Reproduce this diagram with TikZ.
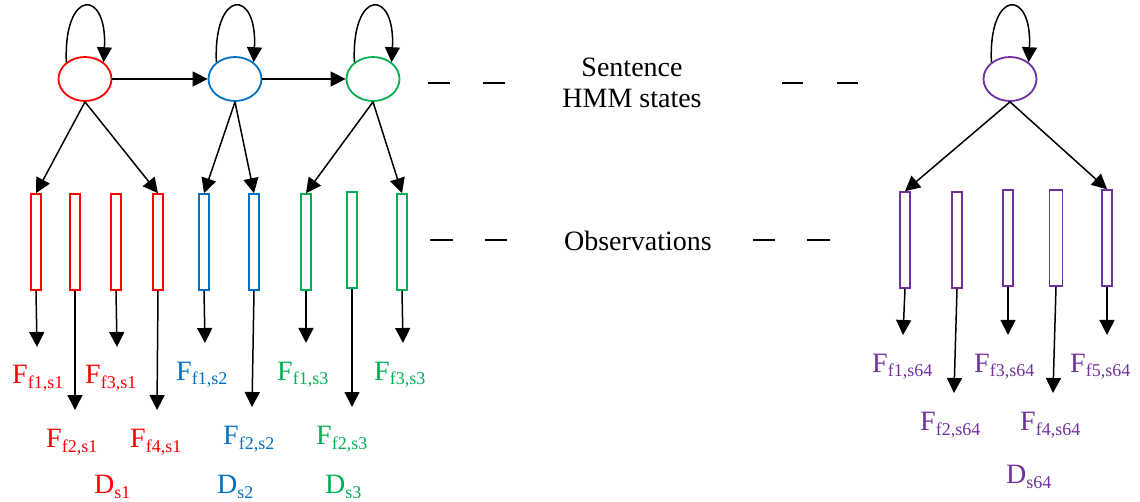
\documentclass[tikz,border=0pt]{standalone}
\usepackage{fontspec}
\setmainfont{Liberation Serif}
\usetikzlibrary{arrows.meta,shapes.geometric}
\definecolor{sred}{RGB}{255,0,0}
\definecolor{sblue}{RGB}{0,112,192}
\definecolor{sgreen}{RGB}{0,176,80}
\definecolor{spurple}{RGB}{112,48,160}
% main letter with a lowered, smaller index
\newcommand\lbl[2]{#1\raisebox{-5pt}{\fontsize{18}{18}\selectfont #2}}
\begin{document}
\begin{tikzpicture}[x=1pt,y=-1pt,
  state/.style={ellipse, draw, line width=1.8pt, minimum width=53pt, minimum height=44pt, inner sep=0pt},
  obs/.style={rectangle, draw, line width=1.6pt, minimum width=10pt, minimum height=96pt, inner sep=0pt},
  arr/.style={-{Triangle[length=15pt,width=15pt]}, line width=1.5pt, black},
  lab/.style={anchor=base west, inner sep=0pt, font=\fontsize{28}{31}\selectfont},
  txt/.style={inner sep=0pt, font=\fontsize{28}{31}\selectfont, align=center},
  gap/.style={line width=1.4pt, black}]
\useasboundingbox (0,0) rectangle (1140,502);

% hidden states
\node[state, sred]    (st1) at (85,79)   {};
\node[state, sblue]   (st2) at (235,79)  {};
\node[state, sgreen]  (st3) at (373,79)  {};
\node[state, spurple] (st4) at (1010,79) {};

% self transitions
\foreach \s in {st1,st2,st3,st4}
  \draw[arr] (\s.138) .. controls +(-3,-74) and +(4,-74) .. (\s.42);

% transitions between states
\draw[arr] (st1.east) -- (st2.west);
\draw[arr] (st2.east) -- (st3.west);

% observation boxes
\node[obs, sred]   (r1) at (36,242)  {};
\node[obs, sred]   (r2) at (75,242)  {};
\node[obs, sred]   (r3) at (116,242) {};
\node[obs, sred]   (r4) at (158,242) {};
\node[obs, sblue]  (b1) at (204,242) {};
\node[obs, sblue]  (b2) at (254,242) {};
\node[obs, sgreen] (g1) at (306,242) {};
\node[obs, sgreen] (g2) at (352,240) {};
\node[obs, sgreen] (g3) at (402,242) {};
\node[obs, spurple] (p1) at (905,240)  {};
\node[obs, spurple] (p2) at (957,240)  {};
\node[obs, spurple] (p3) at (1008,238) {};
\node[obs, spurple, minimum width=13pt] (p4) at (1056,238) {};
\node[obs, spurple] (p5) at (1107,238) {};

% emissions
\draw[arr] (st1.south) -- (r1.north);
\draw[arr] (st1.south) -- (r4.north);
\draw[arr] (st2.south) -- (b1.north);
\draw[arr] (st2.south) -- (b2.north);
\draw[arr] (st3.south) -- (g1.north);
\draw[arr] (st3.south) -- (g3.north);
\draw[arr] (st4.south) -- (p1.north);
\draw[arr] (st4.south) -- (p5.north);

% feature arrows
\coordinate (tr1) at (37,347);
\coordinate (tr2) at (75,410);
\coordinate (tr3) at (117,347);
\coordinate (tr4) at (157,410);
\coordinate (tb1) at (205,343);
\coordinate (tb2) at (252,407);
\coordinate (tg1) at (306,343);
\coordinate (tg2) at (352,407);
\coordinate (tg3) at (403,343);
\coordinate (tp1) at (903,335);
\coordinate (tp2) at (954,393);
\coordinate (tp3) at (1008,335);
\coordinate (tp4) at (1053,393);
\coordinate (tp5) at (1107,335);
\foreach \b/\t in {r1/tr1,r2/tr2,r3/tr3,r4/tr4,b1/tb1,b2/tb2,g1/tg1,g2/tg2,g3/tg3,p1/tp1,p2/tp2,p3/tp3,p4/tp4,p5/tp5}
  \draw[arr] (\b.south) -- (\t);

% feature labels
\node[lab, sred] (lr1) at (12,384)  {\lbl{F}{f1,s1}};
\node[lab, sred] (lr3) at (85,384)  {\lbl{F}{f3,s1}};
\node[lab, sred] (lr2) at (46,447)  {\lbl{F}{f2,s1}};
\node[lab, sred] (lr4) at (130,447) {\lbl{F}{f4,s1}};
\node[lab, sred] (dr)  at (94,493)  {\lbl{D}{s1}};

\node[lab, sblue] (lb1) at (176,380) {\lbl{F}{f1,s2}};
\node[lab, sblue] (lb2) at (223,444) {\lbl{F}{f2,s2}};
\node[lab, sblue] (db)  at (217,493) {\lbl{D}{s2}};

\node[lab, sgreen] (lg1) at (277,380) {\lbl{F}{f1,s3}};
\node[lab, sgreen] (lg3) at (374,380) {\lbl{F}{f3,s3}};
\node[lab, sgreen] (lg2) at (316,444) {\lbl{F}{f2,s3}};
\node[lab, sgreen] (dg)  at (325,493) {\lbl{D}{s3}};

\node[lab, spurple] (lp1) at (872,372)  {\lbl{F}{f1,s64}};
\node[lab, spurple] (lp3) at (974,372)  {\lbl{F}{f3,s64}};
\node[lab, spurple] (lp5) at (1070,372) {\lbl{F}{f5,s64}};
\node[lab, spurple] (lp2) at (920,430)  {\lbl{F}{f2,s64}};
\node[lab, spurple] (lp4) at (1020,430) {\lbl{F}{f4,s64}};
\node[lab, spurple] (dp)  at (1006,483) {\lbl{D}{s64}};

% row captions
\node[txt] (cap1) at (632,83) {Sentence\\HMM states};
\node[txt, anchor=base] (cap2) at (638,251) {Observations};

% elision marks
\draw[gap] (428,83) -- (450,83);
\draw[gap] (483,83) -- (505,83);
\draw[gap] (782,83) -- (803,83);
\draw[gap] (837,83) -- (858,83);
\draw[gap] (430,240) -- (453,240);
\draw[gap] (485,240) -- (507,240);
\draw[gap] (753,240) -- (775,240);
\draw[gap] (807,240) -- (830,240);
\end{tikzpicture}
\end{document}
